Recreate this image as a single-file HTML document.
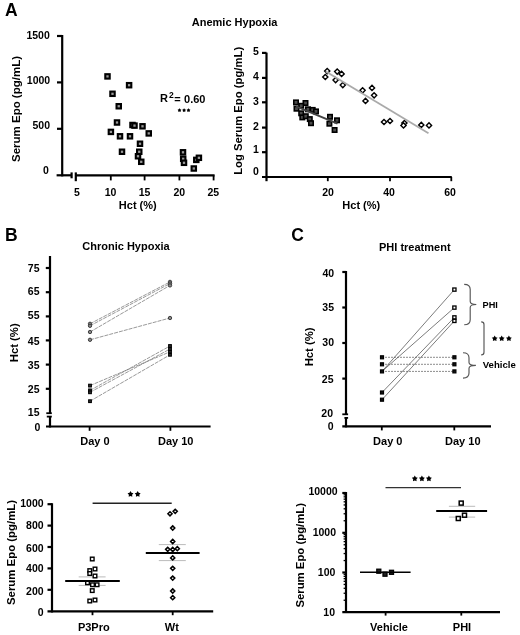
<!DOCTYPE html>
<html><head><meta charset="utf-8"><style>
html,body{margin:0;padding:0;background:#fff;}
svg{display:block;will-change:transform;}
text{font-family:"Liberation Sans", sans-serif;fill:#000;}
</style></head><body>
<svg width="520" height="635" viewBox="0 0 520 635">
<rect width="520" height="635" fill="#fff"/>
<text x="5" y="15.6" font-size="17.5" text-anchor="start" font-weight="bold" >A</text>
<text x="234.6" y="25.8" font-size="11" text-anchor="middle" font-weight="bold" >Anemic Hypoxia</text>
<line x1="62.2" y1="35" x2="62.2" y2="176.4" stroke="#000" stroke-width="2.2" />
<line x1="57" y1="36" x2="62.2" y2="36" stroke="#000" stroke-width="2.2" />
<line x1="57" y1="82.4" x2="62.2" y2="82.4" stroke="#000" stroke-width="2.2" />
<line x1="57" y1="128.8" x2="62.2" y2="128.8" stroke="#000" stroke-width="2.2" />
<line x1="56.6" y1="175.3" x2="71.5" y2="175.3" stroke="#000" stroke-width="2.2" />
<line x1="71.6" y1="172.4" x2="71.6" y2="178.3" stroke="#000" stroke-width="2.2" />
<line x1="75.8" y1="172.4" x2="75.8" y2="181.2" stroke="#000" stroke-width="2.2" />
<line x1="75.8" y1="175.3" x2="214.6" y2="175.3" stroke="#000" stroke-width="2.2" />
<line x1="110.8" y1="175.3" x2="110.8" y2="180.4" stroke="#000" stroke-width="1.8" />
<line x1="144.6" y1="175.3" x2="144.6" y2="180.4" stroke="#000" stroke-width="1.8" />
<line x1="179.4" y1="175.3" x2="179.4" y2="180.4" stroke="#000" stroke-width="1.8" />
<line x1="213.6" y1="175.3" x2="213.6" y2="180.4" stroke="#000" stroke-width="1.8" />
<text x="49.8" y="39.099999999999994" font-size="10.5" text-anchor="end" font-weight="bold" >1500</text>
<text x="50.2" y="84.3" font-size="10.5" text-anchor="end" font-weight="bold" >1000</text>
<text x="50" y="129.20000000000002" font-size="10.5" text-anchor="end" font-weight="bold" >500</text>
<text x="48.9" y="174.20000000000002" font-size="10.5" text-anchor="end" font-weight="bold" >0</text>
<text x="77" y="195.8" font-size="10.5" text-anchor="middle" font-weight="bold" >5</text>
<text x="110.6" y="195.8" font-size="10.5" text-anchor="middle" font-weight="bold" >10</text>
<text x="144.6" y="195.8" font-size="10.5" text-anchor="middle" font-weight="bold" >15</text>
<text x="179.3" y="195.8" font-size="10.5" text-anchor="middle" font-weight="bold" >20</text>
<text x="213.3" y="195.8" font-size="10.5" text-anchor="middle" font-weight="bold" >25</text>
<text x="137.8" y="208.5" font-size="11" text-anchor="middle" font-weight="bold" >Hct (%)</text>
<text transform="translate(19.6,109) rotate(-90)" font-size="11.5" text-anchor="middle" font-weight="bold">Serum Epo (pg/mL)</text>
<text x="160" y="102.4" font-size="11" text-anchor="start" font-weight="bold" >R</text>
<text x="169" y="97.5" font-size="8.5" text-anchor="start" font-weight="bold" >2</text>
<text x="174.3" y="102.8" font-size="11" text-anchor="start" font-weight="bold" >=</text>
<text x="205.5" y="102.8" font-size="11" text-anchor="end" font-weight="bold" >0.60</text>
<polygon points="179.50,108.29 180.21,109.32 181.40,109.67 180.64,110.66 180.68,111.91 179.50,111.49 178.32,111.91 178.36,110.66 177.60,109.67 178.79,109.32" fill="#000"/>
<polygon points="184.10,108.29 184.81,109.32 186.00,109.67 185.24,110.66 185.28,111.91 184.10,111.49 182.92,111.91 182.96,110.66 182.20,109.67 183.39,109.32" fill="#000"/>
<polygon points="188.50,108.29 189.21,109.32 190.40,109.67 189.64,110.66 189.68,111.91 188.50,111.49 187.32,111.91 187.36,110.66 186.60,109.67 187.79,109.32" fill="#000"/>
<rect x="105.30" y="74.20" width="4.4" height="4.4" fill="#999" stroke="#000" stroke-width="2.1"/>
<rect x="126.90" y="83.00" width="4.4" height="4.4" fill="#999" stroke="#000" stroke-width="2.1"/>
<rect x="110.30" y="91.60" width="4.4" height="4.4" fill="#999" stroke="#000" stroke-width="2.1"/>
<rect x="116.55" y="104.05" width="4.4" height="4.4" fill="#999" stroke="#000" stroke-width="2.1"/>
<rect x="114.80" y="120.30" width="4.4" height="4.4" fill="#999" stroke="#000" stroke-width="2.1"/>
<rect x="130.30" y="122.80" width="4.4" height="4.4" fill="#999" stroke="#000" stroke-width="2.1"/>
<rect x="132.30" y="123.40" width="4.4" height="4.4" fill="#999" stroke="#000" stroke-width="2.1"/>
<rect x="140.30" y="124.10" width="4.4" height="4.4" fill="#999" stroke="#000" stroke-width="2.1"/>
<rect x="108.70" y="129.70" width="4.4" height="4.4" fill="#999" stroke="#000" stroke-width="2.1"/>
<rect x="146.55" y="131.20" width="4.4" height="4.4" fill="#999" stroke="#000" stroke-width="2.1"/>
<rect x="117.80" y="134.10" width="4.4" height="4.4" fill="#999" stroke="#000" stroke-width="2.1"/>
<rect x="127.80" y="134.10" width="4.4" height="4.4" fill="#999" stroke="#000" stroke-width="2.1"/>
<rect x="137.80" y="141.55" width="4.4" height="4.4" fill="#999" stroke="#000" stroke-width="2.1"/>
<rect x="119.80" y="149.55" width="4.4" height="4.4" fill="#999" stroke="#000" stroke-width="2.1"/>
<rect x="137.05" y="149.55" width="4.4" height="4.4" fill="#999" stroke="#000" stroke-width="2.1"/>
<rect x="135.80" y="154.05" width="4.4" height="4.4" fill="#999" stroke="#000" stroke-width="2.1"/>
<rect x="139.05" y="159.60" width="4.4" height="4.4" fill="#999" stroke="#000" stroke-width="2.1"/>
<rect x="180.80" y="150.10" width="4.4" height="4.4" fill="#999" stroke="#000" stroke-width="2.1"/>
<rect x="181.00" y="156.60" width="4.4" height="4.4" fill="#999" stroke="#000" stroke-width="2.1"/>
<rect x="181.80" y="160.60" width="4.4" height="4.4" fill="#999" stroke="#000" stroke-width="2.1"/>
<rect x="191.60" y="166.30" width="4.4" height="4.4" fill="#999" stroke="#000" stroke-width="2.1"/>
<rect x="194.10" y="157.70" width="4.4" height="4.4" fill="#999" stroke="#000" stroke-width="2.1"/>
<rect x="196.70" y="155.60" width="4.4" height="4.4" fill="#999" stroke="#000" stroke-width="2.1"/>
<line x1="266.5" y1="52.6" x2="266.5" y2="181.2" stroke="#000" stroke-width="2.2" />
<line x1="262" y1="52.9" x2="266.5" y2="52.9" stroke="#000" stroke-width="2.2" />
<line x1="262" y1="77.9" x2="266.5" y2="77.9" stroke="#000" stroke-width="2.2" />
<line x1="262" y1="102.3" x2="266.5" y2="102.3" stroke="#000" stroke-width="2.2" />
<line x1="262" y1="127.6" x2="266.5" y2="127.6" stroke="#000" stroke-width="2.2" />
<line x1="262" y1="152.2" x2="266.5" y2="152.2" stroke="#000" stroke-width="2.2" />
<line x1="262" y1="177" x2="451.8" y2="177" stroke="#000" stroke-width="2.2" />
<line x1="327.8" y1="177" x2="327.8" y2="181.2" stroke="#000" stroke-width="1.8" />
<line x1="390" y1="177" x2="390" y2="181.2" stroke="#000" stroke-width="1.8" />
<line x1="451.3" y1="177" x2="451.3" y2="181.2" stroke="#000" stroke-width="1.8" />
<text x="258.9" y="55.4" font-size="10.5" text-anchor="end" font-weight="bold" >5</text>
<text x="258.9" y="79.89999999999999" font-size="10.5" text-anchor="end" font-weight="bold" >4</text>
<text x="258.9" y="104.8" font-size="10.5" text-anchor="end" font-weight="bold" >3</text>
<text x="258.9" y="129.5" font-size="10.5" text-anchor="end" font-weight="bold" >2</text>
<text x="258.9" y="153.4" font-size="10.5" text-anchor="end" font-weight="bold" >1</text>
<text x="258.9" y="175.3" font-size="10.5" text-anchor="end" font-weight="bold" >0</text>
<text x="328" y="195.8" font-size="10.5" text-anchor="middle" font-weight="bold" >20</text>
<text x="389" y="195.8" font-size="10.5" text-anchor="middle" font-weight="bold" >40</text>
<text x="450" y="195.8" font-size="10.5" text-anchor="middle" font-weight="bold" >60</text>
<text x="361.3" y="209" font-size="11" text-anchor="middle" font-weight="bold" >Hct (%)</text>
<text transform="translate(241.6,110.8) rotate(-90)" font-size="11.3" text-anchor="middle" font-weight="bold">Log Serum Epo (pg/mL)</text>
<rect x="293.80" y="100.20" width="4.4" height="4.4" fill="#4a4a4a" stroke="#000" stroke-width="1.6"/>
<rect x="303.30" y="100.80" width="4.4" height="4.4" fill="#4a4a4a" stroke="#000" stroke-width="1.6"/>
<rect x="299.00" y="103.60" width="4.4" height="4.4" fill="#4a4a4a" stroke="#000" stroke-width="1.6"/>
<rect x="294.30" y="106.50" width="4.4" height="4.4" fill="#4a4a4a" stroke="#000" stroke-width="1.6"/>
<rect x="305.80" y="107.10" width="4.4" height="4.4" fill="#4a4a4a" stroke="#000" stroke-width="1.6"/>
<rect x="310.50" y="107.70" width="4.4" height="4.4" fill="#4a4a4a" stroke="#000" stroke-width="1.6"/>
<rect x="313.80" y="109.20" width="4.4" height="4.4" fill="#4a4a4a" stroke="#000" stroke-width="1.6"/>
<rect x="299.00" y="111.10" width="4.4" height="4.4" fill="#4a4a4a" stroke="#000" stroke-width="1.6"/>
<rect x="300.10" y="115.20" width="4.4" height="4.4" fill="#4a4a4a" stroke="#000" stroke-width="1.6"/>
<rect x="303.60" y="114.00" width="4.4" height="4.4" fill="#4a4a4a" stroke="#000" stroke-width="1.6"/>
<rect x="307.60" y="116.90" width="4.4" height="4.4" fill="#4a4a4a" stroke="#000" stroke-width="1.6"/>
<rect x="308.80" y="121.00" width="4.4" height="4.4" fill="#4a4a4a" stroke="#000" stroke-width="1.6"/>
<rect x="327.80" y="114.60" width="4.4" height="4.4" fill="#4a4a4a" stroke="#000" stroke-width="1.6"/>
<rect x="334.80" y="118.10" width="4.4" height="4.4" fill="#4a4a4a" stroke="#000" stroke-width="1.6"/>
<rect x="327.20" y="121.50" width="4.4" height="4.4" fill="#4a4a4a" stroke="#000" stroke-width="1.6"/>
<rect x="332.40" y="127.80" width="4.4" height="4.4" fill="#4a4a4a" stroke="#000" stroke-width="1.6"/>
<line x1="296" y1="106.4" x2="337.5" y2="123.7" stroke="#444" stroke-width="2" />
<path d="M327.20 68.50L329.80 71.10L327.20 73.70L324.60 71.10Z" fill="#fff" stroke="#000" stroke-width="1.4"/>
<path d="M325.30 74.40L327.90 77.00L325.30 79.60L322.70 77.00Z" fill="#fff" stroke="#000" stroke-width="1.4"/>
<path d="M337.20 69.00L339.80 71.60L337.20 74.20L334.60 71.60Z" fill="#fff" stroke="#000" stroke-width="1.4"/>
<path d="M341.60 71.30L344.20 73.90L341.60 76.50L339.00 73.90Z" fill="#fff" stroke="#000" stroke-width="1.4"/>
<path d="M335.60 77.50L338.20 80.10L335.60 82.70L333.00 80.10Z" fill="#fff" stroke="#000" stroke-width="1.4"/>
<path d="M342.80 82.50L345.40 85.10L342.80 87.70L340.20 85.10Z" fill="#fff" stroke="#000" stroke-width="1.4"/>
<path d="M362.60 87.70L365.20 90.30L362.60 92.90L360.00 90.30Z" fill="#fff" stroke="#000" stroke-width="1.4"/>
<path d="M372.00 85.30L374.60 87.90L372.00 90.50L369.40 87.90Z" fill="#fff" stroke="#000" stroke-width="1.4"/>
<path d="M374.10 92.70L376.70 95.30L374.10 97.90L371.50 95.30Z" fill="#fff" stroke="#000" stroke-width="1.4"/>
<path d="M365.50 98.30L368.10 100.90L365.50 103.50L362.90 100.90Z" fill="#fff" stroke="#000" stroke-width="1.4"/>
<path d="M384.00 119.40L386.60 122.00L384.00 124.60L381.40 122.00Z" fill="#fff" stroke="#000" stroke-width="1.4"/>
<path d="M390.00 118.40L392.60 121.00L390.00 123.60L387.40 121.00Z" fill="#fff" stroke="#000" stroke-width="1.4"/>
<path d="M404.40 120.40L407.00 123.00L404.40 125.60L401.80 123.00Z" fill="#fff" stroke="#000" stroke-width="1.4"/>
<path d="M403.50 122.80L406.10 125.40L403.50 128.00L400.90 125.40Z" fill="#fff" stroke="#000" stroke-width="1.4"/>
<path d="M421.30 122.30L423.90 124.90L421.30 127.50L418.70 124.90Z" fill="#fff" stroke="#000" stroke-width="1.4"/>
<path d="M429.00 122.80L431.60 125.40L429.00 128.00L426.40 125.40Z" fill="#fff" stroke="#000" stroke-width="1.4"/>
<line x1="325.8" y1="71.5" x2="428.5" y2="133.3" stroke="#aaa" stroke-width="1.8" />
<text x="5" y="241.4" font-size="17.5" text-anchor="start" font-weight="bold" >B</text>
<text x="126" y="250" font-size="11" text-anchor="middle" font-weight="bold" >Chronic Hypoxia</text>
<line x1="50" y1="256" x2="50" y2="414" stroke="#000" stroke-width="2.2" />
<line x1="50" y1="416.3" x2="50" y2="427.5" stroke="#000" stroke-width="2.2" />
<line x1="45.8" y1="268" x2="50" y2="268" stroke="#000" stroke-width="2.2" />
<line x1="45.8" y1="292.2" x2="50" y2="292.2" stroke="#000" stroke-width="2.2" />
<line x1="45.8" y1="316.4" x2="50" y2="316.4" stroke="#000" stroke-width="2.2" />
<line x1="45.8" y1="340.4" x2="50" y2="340.4" stroke="#000" stroke-width="2.2" />
<line x1="45.8" y1="364.6" x2="50" y2="364.6" stroke="#000" stroke-width="2.2" />
<line x1="45.8" y1="388.8" x2="50" y2="388.8" stroke="#000" stroke-width="2.2" />
<line x1="46.3" y1="413.2" x2="51.8" y2="413.2" stroke="#000" stroke-width="1.8" />
<line x1="46.8" y1="416.6" x2="51.8" y2="416.6" stroke="#000" stroke-width="1.8" />
<text x="39.5" y="271.6" font-size="10.5" text-anchor="end" font-weight="bold" >75</text>
<text x="39.5" y="295.40000000000003" font-size="10.5" text-anchor="end" font-weight="bold" >65</text>
<text x="39.5" y="318.8" font-size="10.5" text-anchor="end" font-weight="bold" >55</text>
<text x="39.5" y="345.2" font-size="10.5" text-anchor="end" font-weight="bold" >45</text>
<text x="39.5" y="368.8" font-size="10.5" text-anchor="end" font-weight="bold" >35</text>
<text x="39.5" y="393.3" font-size="10.5" text-anchor="end" font-weight="bold" >25</text>
<text x="39.5" y="416.1" font-size="10.5" text-anchor="end" font-weight="bold" >15</text>
<text x="40.3" y="430.90000000000003" font-size="10.5" text-anchor="end" font-weight="bold" >0</text>
<line x1="46" y1="426.5" x2="210.6" y2="426.5" stroke="#000" stroke-width="2.2" />
<line x1="89.6" y1="426.5" x2="89.6" y2="430.8" stroke="#000" stroke-width="1.8" />
<line x1="170.4" y1="426.5" x2="170.4" y2="430.8" stroke="#000" stroke-width="1.8" />
<text x="95" y="445" font-size="11" text-anchor="middle" font-weight="bold" >Day 0</text>
<text x="175.7" y="445" font-size="11" text-anchor="middle" font-weight="bold" >Day 10</text>
<text transform="translate(17.8,342.8) rotate(-90)" font-size="11.3" text-anchor="middle" font-weight="bold">Hct (%)</text>
<line x1="90" y1="323.8" x2="170" y2="281.9" stroke="#777" stroke-width="0.75" stroke-dasharray="4,1"/>
<line x1="90" y1="325.8" x2="170" y2="283.5" stroke="#777" stroke-width="0.75" stroke-dasharray="4,1"/>
<line x1="90" y1="332" x2="170" y2="285.4" stroke="#777" stroke-width="0.75" stroke-dasharray="4,1"/>
<line x1="90" y1="339.8" x2="170" y2="318" stroke="#777" stroke-width="0.75" stroke-dasharray="4,1"/>
<line x1="90" y1="385.6" x2="170" y2="351.8" stroke="#777" stroke-width="0.75" stroke-dasharray="4,1"/>
<line x1="90" y1="390.4" x2="170" y2="346.0" stroke="#777" stroke-width="0.75" stroke-dasharray="4,1"/>
<line x1="90" y1="392.3" x2="170" y2="349.0" stroke="#777" stroke-width="0.75" stroke-dasharray="4,1"/>
<line x1="90" y1="401.2" x2="170" y2="354.8" stroke="#777" stroke-width="0.75" stroke-dasharray="4,1"/>
<circle cx="90" cy="323.8" r="1.7" fill="#888" stroke="#333" stroke-width="0.9"/>
<circle cx="170" cy="281.9" r="1.7" fill="#888" stroke="#333" stroke-width="0.9"/>
<circle cx="90" cy="325.8" r="1.7" fill="#888" stroke="#333" stroke-width="0.9"/>
<circle cx="170" cy="283.5" r="1.7" fill="#888" stroke="#333" stroke-width="0.9"/>
<circle cx="90" cy="332" r="1.7" fill="#888" stroke="#333" stroke-width="0.9"/>
<circle cx="170" cy="285.4" r="1.7" fill="#888" stroke="#333" stroke-width="0.9"/>
<circle cx="90" cy="339.8" r="1.7" fill="#888" stroke="#333" stroke-width="0.9"/>
<circle cx="170" cy="318" r="1.7" fill="#888" stroke="#333" stroke-width="0.9"/>
<rect x="88.65" y="384.25" width="2.7" height="2.7" fill="#333" stroke="#000" stroke-width="1.1"/>
<rect x="168.65" y="350.45" width="2.7" height="2.7" fill="#333" stroke="#000" stroke-width="1.1"/>
<rect x="88.65" y="389.05" width="2.7" height="2.7" fill="#333" stroke="#000" stroke-width="1.1"/>
<rect x="168.65" y="344.65" width="2.7" height="2.7" fill="#333" stroke="#000" stroke-width="1.1"/>
<rect x="88.65" y="390.95" width="2.7" height="2.7" fill="#333" stroke="#000" stroke-width="1.1"/>
<rect x="168.65" y="347.65" width="2.7" height="2.7" fill="#333" stroke="#000" stroke-width="1.1"/>
<rect x="88.65" y="399.85" width="2.7" height="2.7" fill="#333" stroke="#000" stroke-width="1.1"/>
<rect x="168.65" y="353.45" width="2.7" height="2.7" fill="#333" stroke="#000" stroke-width="1.1"/>
<line x1="52" y1="503.2" x2="52" y2="612.5" stroke="#000" stroke-width="2.2" />
<line x1="47.5" y1="504.2" x2="52" y2="504.2" stroke="#000" stroke-width="2.2" />
<line x1="47.5" y1="525.6" x2="52" y2="525.6" stroke="#000" stroke-width="2.2" />
<line x1="47.5" y1="547" x2="52" y2="547" stroke="#000" stroke-width="2.2" />
<line x1="47.5" y1="568.4" x2="52" y2="568.4" stroke="#000" stroke-width="2.2" />
<line x1="47.5" y1="589.8" x2="52" y2="589.8" stroke="#000" stroke-width="2.2" />
<line x1="47.5" y1="611.4" x2="213.2" y2="611.4" stroke="#000" stroke-width="2.2" />
<text x="43.6" y="507.2" font-size="10.5" text-anchor="end" font-weight="bold" >1000</text>
<text x="43.6" y="528.9" font-size="10.5" text-anchor="end" font-weight="bold" >800</text>
<text x="43.6" y="551.5999999999999" font-size="10.5" text-anchor="end" font-weight="bold" >600</text>
<text x="43.6" y="571.6999999999999" font-size="10.5" text-anchor="end" font-weight="bold" >400</text>
<text x="43.6" y="594.9" font-size="10.5" text-anchor="end" font-weight="bold" >200</text>
<text x="43.6" y="616.4" font-size="10.5" text-anchor="end" font-weight="bold" >0</text>
<line x1="92.5" y1="611.4" x2="92.5" y2="615.2" stroke="#000" stroke-width="1.8" />
<line x1="172.7" y1="611.4" x2="172.7" y2="615.2" stroke="#000" stroke-width="1.8" />
<text x="93.8" y="631.3" font-size="11" text-anchor="middle" font-weight="bold" >P3Pro</text>
<text x="171.8" y="631.3" font-size="11" text-anchor="middle" font-weight="bold" >Wt</text>
<text transform="translate(15.3,552.5) rotate(-90)" font-size="11.4" text-anchor="middle" font-weight="bold">Serum Epo (pg/mL)</text>
<line x1="92.6" y1="503.3" x2="171.7" y2="503.3" stroke="#222" stroke-width="1.4" />
<polygon points="130.50,491.09 131.50,492.82 133.45,493.24 132.12,494.72 132.32,496.70 130.50,495.90 128.68,496.70 128.88,494.72 127.55,493.24 129.50,492.82" fill="#000"/>
<polygon points="137.70,491.09 138.70,492.82 140.65,493.24 139.32,494.72 139.52,496.70 137.70,495.90 135.88,496.70 136.08,494.72 134.75,493.24 136.70,492.82" fill="#000"/>
<line x1="78.7" y1="576.9" x2="105.6" y2="576.9" stroke="#bbb" stroke-width="1" />
<line x1="78.7" y1="585.4" x2="105.6" y2="585.4" stroke="#bbb" stroke-width="1" />
<rect x="90.45" y="557.20" width="3.6" height="3.6" fill="#fff" stroke="#000" stroke-width="1.4"/>
<rect x="93.20" y="567.20" width="3.6" height="3.6" fill="#fff" stroke="#000" stroke-width="1.4"/>
<rect x="87.95" y="568.80" width="3.6" height="3.6" fill="#fff" stroke="#000" stroke-width="1.4"/>
<rect x="87.95" y="571.70" width="3.6" height="3.6" fill="#fff" stroke="#000" stroke-width="1.4"/>
<rect x="93.20" y="574.20" width="3.6" height="3.6" fill="#fff" stroke="#000" stroke-width="1.4"/>
<rect x="85.70" y="580.95" width="3.6" height="3.6" fill="#fff" stroke="#000" stroke-width="1.4"/>
<rect x="90.70" y="582.95" width="3.6" height="3.6" fill="#fff" stroke="#000" stroke-width="1.4"/>
<rect x="95.30" y="582.95" width="3.6" height="3.6" fill="#fff" stroke="#000" stroke-width="1.4"/>
<rect x="90.45" y="588.80" width="3.6" height="3.6" fill="#fff" stroke="#000" stroke-width="1.4"/>
<rect x="87.95" y="599.20" width="3.6" height="3.6" fill="#fff" stroke="#000" stroke-width="1.4"/>
<rect x="93.20" y="598.20" width="3.6" height="3.6" fill="#fff" stroke="#000" stroke-width="1.4"/>
<line x1="65.2" y1="581" x2="119.8" y2="581" stroke="#000" stroke-width="2" />
<line x1="158.8" y1="544.6" x2="185.8" y2="544.6" stroke="#bbb" stroke-width="1" />
<line x1="158.8" y1="560.6" x2="185.8" y2="560.6" stroke="#bbb" stroke-width="1" />
<path d="M170.00 511.70L172.10 513.80L170.00 515.90L167.90 513.80Z" fill="#fff" stroke="#000" stroke-width="1.5"/>
<path d="M175.20 509.20L177.30 511.30L175.20 513.40L173.10 511.30Z" fill="#fff" stroke="#000" stroke-width="1.5"/>
<path d="M172.70 525.90L174.80 528.00L172.70 530.10L170.60 528.00Z" fill="#fff" stroke="#000" stroke-width="1.5"/>
<path d="M172.70 539.40L174.80 541.50L172.70 543.60L170.60 541.50Z" fill="#fff" stroke="#000" stroke-width="1.5"/>
<path d="M167.70 547.20L169.80 549.30L167.70 551.40L165.60 549.30Z" fill="#fff" stroke="#000" stroke-width="1.5"/>
<path d="M172.70 547.40L174.80 549.50L172.70 551.60L170.60 549.50Z" fill="#fff" stroke="#000" stroke-width="1.5"/>
<path d="M177.30 546.60L179.40 548.70L177.30 550.80L175.20 548.70Z" fill="#fff" stroke="#000" stroke-width="1.5"/>
<path d="M172.70 555.80L174.80 557.90L172.70 560.00L170.60 557.90Z" fill="#fff" stroke="#000" stroke-width="1.5"/>
<path d="M172.70 566.20L174.80 568.30L172.70 570.40L170.60 568.30Z" fill="#fff" stroke="#000" stroke-width="1.5"/>
<path d="M172.70 576.00L174.80 578.10L172.70 580.20L170.60 578.10Z" fill="#fff" stroke="#000" stroke-width="1.5"/>
<path d="M172.70 588.90L174.80 591.00L172.70 593.10L170.60 591.00Z" fill="#fff" stroke="#000" stroke-width="1.5"/>
<path d="M172.70 595.60L174.80 597.70L172.70 599.80L170.60 597.70Z" fill="#fff" stroke="#000" stroke-width="1.5"/>
<line x1="145.8" y1="553.1" x2="199.6" y2="553.1" stroke="#000" stroke-width="2" />
<text x="291.3" y="241.4" font-size="17.5" text-anchor="start" font-weight="bold" >C</text>
<text x="414.8" y="251.4" font-size="11" text-anchor="middle" font-weight="bold" >PHI treatment</text>
<line x1="346" y1="271" x2="346" y2="414.5" stroke="#000" stroke-width="2.2" />
<line x1="346" y1="417.8" x2="346" y2="427.4" stroke="#000" stroke-width="2.2" />
<line x1="342.3" y1="272" x2="346" y2="272" stroke="#000" stroke-width="2.2" />
<line x1="342.3" y1="307.5" x2="346" y2="307.5" stroke="#000" stroke-width="2.2" />
<line x1="342.3" y1="343" x2="346" y2="343" stroke="#000" stroke-width="2.2" />
<line x1="342.3" y1="378.6" x2="346" y2="378.6" stroke="#000" stroke-width="2.2" />
<line x1="342.3" y1="414.3" x2="348.1" y2="414.3" stroke="#000" stroke-width="1.8" />
<line x1="344.4" y1="417.9" x2="348.1" y2="417.9" stroke="#000" stroke-width="1.8" />
<text x="334.2" y="277.40000000000003" font-size="10.5" text-anchor="end" font-weight="bold" >40</text>
<text x="334" y="311.3" font-size="10.5" text-anchor="end" font-weight="bold" >35</text>
<text x="334" y="346.2" font-size="10.5" text-anchor="end" font-weight="bold" >30</text>
<text x="333.5" y="383.1" font-size="10.5" text-anchor="end" font-weight="bold" >25</text>
<text x="333" y="417.3" font-size="10.5" text-anchor="end" font-weight="bold" >20</text>
<text x="333.6" y="430.0" font-size="10.5" text-anchor="end" font-weight="bold" >0</text>
<line x1="342.3" y1="426.3" x2="491" y2="426.3" stroke="#000" stroke-width="2.2" />
<line x1="381.8" y1="426.3" x2="381.8" y2="430.4" stroke="#000" stroke-width="1.8" />
<line x1="454.3" y1="426.3" x2="454.3" y2="430.4" stroke="#000" stroke-width="1.8" />
<text x="387.8" y="444.7" font-size="11" text-anchor="middle" font-weight="bold" >Day 0</text>
<text x="462.8" y="444.7" font-size="11" text-anchor="middle" font-weight="bold" >Day 10</text>
<text transform="translate(313.2,346.9) rotate(-90)" font-size="11.3" text-anchor="middle" font-weight="bold">Hct (%)</text>
<line x1="382" y1="357.3" x2="454.4" y2="357.3" stroke="#666" stroke-width="0.75" stroke-dasharray="2,1"/>
<line x1="382" y1="364.3" x2="454.4" y2="364.3" stroke="#666" stroke-width="0.75" stroke-dasharray="2,1"/>
<line x1="382" y1="371.4" x2="454.4" y2="371.4" stroke="#666" stroke-width="0.75" stroke-dasharray="2,1"/>
<line x1="382" y1="371.4" x2="454.4" y2="289.6" stroke="#444" stroke-width="0.7" />
<line x1="382" y1="371.4" x2="454.4" y2="307.6" stroke="#444" stroke-width="0.7" />
<line x1="382" y1="392.5" x2="454.4" y2="317.4" stroke="#444" stroke-width="0.7" />
<line x1="382" y1="399.7" x2="454.4" y2="320.9" stroke="#444" stroke-width="0.7" />
<rect x="380.50" y="355.80" width="3.0" height="3.0" fill="#111" stroke="#000" stroke-width="1.2"/>
<rect x="380.50" y="362.80" width="3.0" height="3.0" fill="#111" stroke="#000" stroke-width="1.2"/>
<rect x="380.50" y="369.90" width="3.0" height="3.0" fill="#111" stroke="#000" stroke-width="1.2"/>
<rect x="380.50" y="391.00" width="3.0" height="3.0" fill="#111" stroke="#000" stroke-width="1.2"/>
<rect x="380.50" y="398.20" width="3.0" height="3.0" fill="#111" stroke="#000" stroke-width="1.2"/>
<rect x="452.80" y="288.00" width="3.2" height="3.2" fill="#fff" stroke="#000" stroke-width="1.3"/>
<rect x="452.80" y="306.00" width="3.2" height="3.2" fill="#fff" stroke="#000" stroke-width="1.3"/>
<rect x="452.80" y="315.80" width="3.2" height="3.2" fill="#fff" stroke="#000" stroke-width="1.3"/>
<rect x="452.80" y="319.30" width="3.2" height="3.2" fill="#fff" stroke="#000" stroke-width="1.3"/>
<rect x="452.90" y="355.80" width="3.0" height="3.0" fill="#111" stroke="#000" stroke-width="1.2"/>
<rect x="452.90" y="362.80" width="3.0" height="3.0" fill="#111" stroke="#000" stroke-width="1.2"/>
<rect x="452.90" y="369.90" width="3.0" height="3.0" fill="#111" stroke="#000" stroke-width="1.2"/>
<path d="M464.2 284.3 Q470.2 284.3 470.2 289.3 L470.2 301.5 Q470.2 304.5 476.3 304.5 Q470.2 304.5 470.2 307.5 L470.2 319.7 Q470.2 324.7 464.2 324.7" fill="none" stroke="#555" stroke-width="1.15"/>
<text x="482.6" y="308.4" font-size="9.2" text-anchor="start" font-weight="bold" >PHI</text>
<path d="M481.2 321.8 Q484 321.8 484 324.5 L484 352.2 Q484 354.9 481.2 354.9" fill="none" stroke="#555" stroke-width="1.15"/>
<polygon points="494.70,335.49 495.70,337.22 497.65,337.64 496.32,339.12 496.52,341.10 494.70,340.30 492.88,341.10 493.08,339.12 491.75,337.64 493.70,337.22" fill="#000"/>
<polygon points="501.70,335.49 502.70,337.22 504.65,337.64 503.32,339.12 503.52,341.10 501.70,340.30 499.88,341.10 500.08,339.12 498.75,337.64 500.70,337.22" fill="#000"/>
<polygon points="508.90,335.49 509.90,337.22 511.85,337.64 510.52,339.12 510.72,341.10 508.90,340.30 507.08,341.10 507.28,339.12 505.95,337.64 507.90,337.22" fill="#000"/>
<path d="M463 352.7 Q469 352.7 469 357.7 L469 362.4 Q469 365.4 475.9 365.4 Q469 365.4 469 368.4 L469 373.1 Q469 378.1 463 378.1" fill="none" stroke="#555" stroke-width="1.15"/>
<text x="482.7" y="368.4" font-size="9.6" text-anchor="start" font-weight="bold" >Vehicle</text>
<line x1="346" y1="492" x2="346" y2="612.6" stroke="#000" stroke-width="2.2" />
<line x1="342.3" y1="493" x2="346" y2="493" stroke="#000" stroke-width="2.2" />
<line x1="342.3" y1="532.8" x2="346" y2="532.8" stroke="#000" stroke-width="2.2" />
<line x1="342.3" y1="572.5" x2="346" y2="572.5" stroke="#000" stroke-width="2.2" />
<line x1="343.6" y1="520.7491091721399" x2="346" y2="520.7491091721399" stroke="#000" stroke-width="1.3" />
<line x1="343.6" y1="513.7582861876294" x2="346" y2="513.7582861876294" stroke="#000" stroke-width="1.3" />
<line x1="343.6" y1="508.7982183442799" x2="346" y2="508.7982183442799" stroke="#000" stroke-width="1.3" />
<line x1="343.6" y1="504.95089082786006" x2="346" y2="504.95089082786006" stroke="#000" stroke-width="1.3" />
<line x1="343.6" y1="501.8073953597694" x2="346" y2="501.8073953597694" stroke="#000" stroke-width="1.3" />
<line x1="343.6" y1="499.149607811434" x2="346" y2="499.149607811434" stroke="#000" stroke-width="1.3" />
<line x1="343.6" y1="496.84732751641985" x2="346" y2="496.84732751641985" stroke="#000" stroke-width="1.3" />
<line x1="343.6" y1="494.81657237525883" x2="346" y2="494.81657237525883" stroke="#000" stroke-width="1.3" />
<line x1="343.6" y1="560.5491091721399" x2="346" y2="560.5491091721399" stroke="#000" stroke-width="1.3" />
<line x1="343.6" y1="553.5582861876294" x2="346" y2="553.5582861876294" stroke="#000" stroke-width="1.3" />
<line x1="343.6" y1="548.5982183442799" x2="346" y2="548.5982183442799" stroke="#000" stroke-width="1.3" />
<line x1="343.6" y1="544.75089082786" x2="346" y2="544.75089082786" stroke="#000" stroke-width="1.3" />
<line x1="343.6" y1="541.6073953597693" x2="346" y2="541.6073953597693" stroke="#000" stroke-width="1.3" />
<line x1="343.6" y1="538.9496078114339" x2="346" y2="538.9496078114339" stroke="#000" stroke-width="1.3" />
<line x1="343.6" y1="536.6473275164198" x2="346" y2="536.6473275164198" stroke="#000" stroke-width="1.3" />
<line x1="343.6" y1="534.6165723752588" x2="346" y2="534.6165723752588" stroke="#000" stroke-width="1.3" />
<line x1="343.6" y1="600.2491091721399" x2="346" y2="600.2491091721399" stroke="#000" stroke-width="1.3" />
<line x1="343.6" y1="593.2582861876294" x2="346" y2="593.2582861876294" stroke="#000" stroke-width="1.3" />
<line x1="343.6" y1="588.2982183442799" x2="346" y2="588.2982183442799" stroke="#000" stroke-width="1.3" />
<line x1="343.6" y1="584.45089082786" x2="346" y2="584.45089082786" stroke="#000" stroke-width="1.3" />
<line x1="343.6" y1="581.3073953597693" x2="346" y2="581.3073953597693" stroke="#000" stroke-width="1.3" />
<line x1="343.6" y1="578.649607811434" x2="346" y2="578.649607811434" stroke="#000" stroke-width="1.3" />
<line x1="343.6" y1="576.3473275164198" x2="346" y2="576.3473275164198" stroke="#000" stroke-width="1.3" />
<line x1="343.6" y1="574.3165723752588" x2="346" y2="574.3165723752588" stroke="#000" stroke-width="1.3" />
<line x1="342.3" y1="612.2" x2="500" y2="612.2" stroke="#000" stroke-width="2.2" />
<text x="337.6" y="495.40000000000003" font-size="10.5" text-anchor="end" font-weight="bold" >10000</text>
<text x="336" y="535.6999999999999" font-size="10.5" text-anchor="end" font-weight="bold" >1000</text>
<text x="335.4" y="576.4" font-size="10.5" text-anchor="end" font-weight="bold" >100</text>
<text x="335" y="615.8" font-size="10.5" text-anchor="end" font-weight="bold" >10</text>
<line x1="385.6" y1="612.2" x2="385.6" y2="615.6" stroke="#000" stroke-width="1.8" />
<line x1="461.3" y1="612.2" x2="461.3" y2="615.6" stroke="#000" stroke-width="1.8" />
<text x="389" y="631" font-size="11" text-anchor="middle" font-weight="bold" >Vehicle</text>
<text x="462" y="631" font-size="11" text-anchor="middle" font-weight="bold" >PHI</text>
<text transform="translate(304.2,555.3) rotate(-90)" font-size="11.35" text-anchor="middle" font-weight="bold">Serum Epo (pg/mL)</text>
<line x1="385.5" y1="487.6" x2="461" y2="487.6" stroke="#333" stroke-width="1.4" />
<polygon points="414.80,475.59 415.80,477.32 417.75,477.74 416.42,479.22 416.62,481.20 414.80,480.40 412.98,481.20 413.18,479.22 411.85,477.74 413.80,477.32" fill="#000"/>
<polygon points="421.90,475.59 422.90,477.32 424.85,477.74 423.52,479.22 423.72,481.20 421.90,480.40 420.08,481.20 420.28,479.22 418.95,477.74 420.90,477.32" fill="#000"/>
<polygon points="428.90,475.59 429.90,477.32 431.85,477.74 430.52,479.22 430.72,481.20 428.90,480.40 427.08,481.20 427.28,479.22 425.95,477.74 427.90,477.32" fill="#000"/>
<line x1="448.9" y1="506.3" x2="475.2" y2="506.3" stroke="#bbb" stroke-width="1" />
<line x1="448.9" y1="517.1" x2="475.2" y2="517.1" stroke="#bbb" stroke-width="1" />
<rect x="459.20" y="501.10" width="4" height="4" fill="#fff" stroke="#000" stroke-width="1.5"/>
<rect x="462.50" y="513.20" width="4" height="4" fill="#fff" stroke="#000" stroke-width="1.5"/>
<rect x="456.30" y="516.50" width="4" height="4" fill="#fff" stroke="#000" stroke-width="1.5"/>
<line x1="436.2" y1="510.9" x2="487.1" y2="510.9" stroke="#000" stroke-width="2" />
<rect x="376.80" y="569.20" width="4" height="4" fill="#222" stroke="#000" stroke-width="1.3"/>
<rect x="383.00" y="572.20" width="4" height="4" fill="#222" stroke="#000" stroke-width="1.3"/>
<rect x="389.50" y="570.30" width="4" height="4" fill="#222" stroke="#000" stroke-width="1.3"/>
<line x1="360" y1="572.3" x2="410.6" y2="572.3" stroke="#000" stroke-width="1.6" />
</svg>
</body></html>
